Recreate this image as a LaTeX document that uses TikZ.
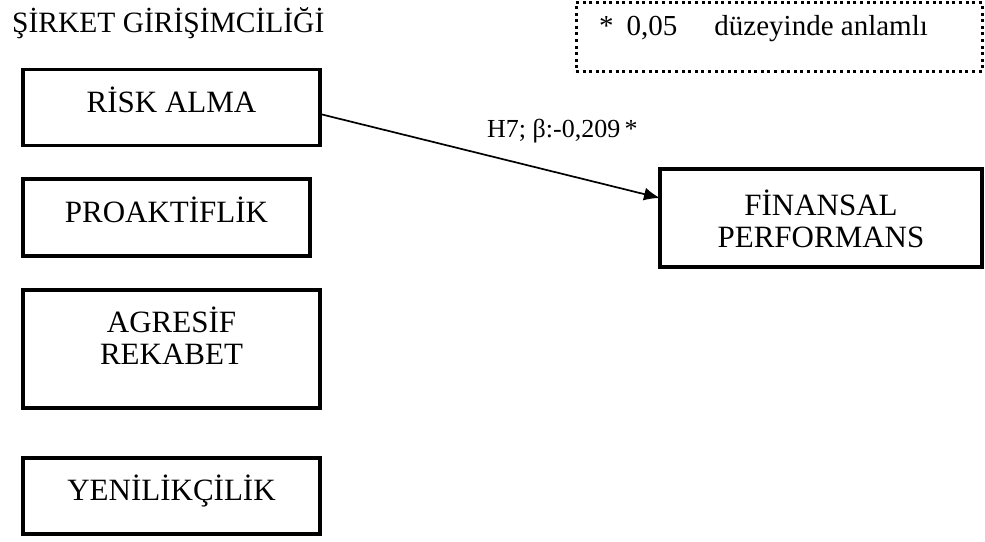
\documentclass[tikz,border=0pt]{standalone}
\usepackage{fontspec}
\setmainfont{Liberation Serif}
\usetikzlibrary{arrows.meta,calc}
\begin{document}
\begin{tikzpicture}[x=1pt,y=-1pt,
  boxshape/.style={draw=black,line width=3.5pt,rectangle,inner sep=0pt,outer sep=0pt},
  boxtext/.style={anchor=base,inner sep=0pt,font=\fontsize{31}{33}\selectfont},
  legendbox/.style={draw=black,line width=3pt,dash pattern=on 3pt off 3.6pt},
  conn/.style={line width=1.7pt,-{Latex[length=16pt,width=13pt]}}]
\useasboundingbox (0,0) rectangle (985,541);
% title
\node[anchor=base west,inner sep=0pt,font=\fontsize{29.5}{32}\selectfont] (title) at (12,32) {ŞİRKET GİRİŞİMCİLİĞİ};
% legend
\node[legendbox,minimum width=406pt,minimum height=69pt,inner sep=0pt] (legend) at (779,37) {};
\node[anchor=base west,inner sep=0pt,font=\fontsize{29}{32}\selectfont] (legendtext) at (599,35) {*\hspace{13pt}0,05\hspace{37pt}düzeyinde anlamlı};
% left boxes
\node[boxshape,minimum width=297pt,minimum height=76pt] (risk) at (171.5,107.5) {};
\node[boxtext] (risktext) at (171.5,112) {RİSK ALMA};
\node[boxshape,minimum width=287pt,minimum height=77pt] (proak) at (166.5,217.5) {};
\node[boxtext] (proaktext) at (166.5,222) {PROAKTİFLİK};
\node[boxshape,minimum width=297pt,minimum height=118pt] (agr) at (171.5,349) {};
\node[boxtext] (agrtext1) at (171.5,332) {AGRESİF};
\node[boxtext] (agrtext2) at (171.5,364) {REKABET};
\node[boxshape,minimum width=297pt,minimum height=76pt] (yen) at (171.5,496) {};
\node[boxtext] (yentext) at (171.5,500) {YENİLİKÇİLİK};
% right box
\node[boxshape,minimum width=322pt,minimum height=98pt] (fin) at (821,218) {};
\node[boxtext] (fintext1) at (821,215) {FİNANSAL};
\node[boxtext] (fintext2) at (821,247) {PERFORMANS};
% connector
\draw[conn] ([yshift=-6.5pt]risk.east) -- ([yshift=20pt]fin.west);
\node[anchor=base west,inner sep=0pt,font=\fontsize{26}{28}\selectfont] (lbl) at (487,137) {H7; β:-0,209\,*};
\end{tikzpicture}
\end{document}
